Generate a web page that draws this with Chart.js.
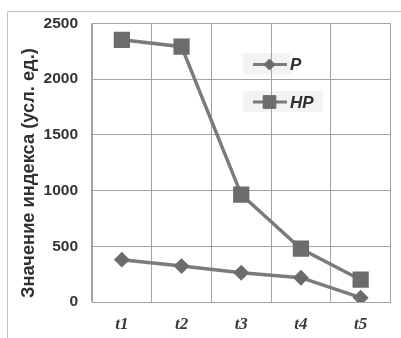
<!DOCTYPE html>
<html>
<head>
<meta charset="utf-8">
<script src="https://cdn.jsdelivr.net/npm/chart.js@4.4.1/dist/chart.umd.min.js"></script>
<style>
  html, body { margin: 0; padding: 0; background: #fff; overflow: hidden; }
  #wrap { width: 403px; height: 338px; }
</style>
</head>
<body>
<div id="wrap"><canvas id="c" width="403" height="338"></canvas></div>
<script>
// Time points and index values (conventional units)
const categories = ['t1', 't2', 't3', 't4', 't5'];
const seriesP = [380, 322, 263, 218, 39];
const seriesHP = [2352, 2290, 964, 478, 200];
const yTicks = [0, 500, 1000, 1500, 2000, 2500];
const yTitle = 'Значение индекса (усл. ед.)';

const LINE = '#7b7b7b';
const MARK = '#6c6c6c';
const GRID = '#a3a3a3';

// Outer frame, axis title and the in-plot legend
const decor = {
  id: 'decor',
  beforeDraw(chart) {
    const ctx = chart.ctx;
    ctx.save();
    ctx.strokeStyle = '#c4c4c4';
    ctx.lineWidth = 1;
    ctx.beginPath();
    ctx.moveTo(7.5, 338);
    ctx.lineTo(7.5, 11.5);
    ctx.lineTo(chart.width, 11.5);
    ctx.stroke();
    // faint backing behind legend entries
    ctx.fillStyle = '#f3f3f3';
    ctx.fillRect(243, 53, 48, 21);
    ctx.fillRect(243, 91, 80, 21);
    ctx.restore();
  },
  afterDraw(chart) {
    const ctx = chart.ctx;
    ctx.save();
    // rotated y-axis title, sized to span the value range
    ctx.font = 'bold 16px "Liberation Sans", Arial, sans-serif';
    const w = ctx.measureText(yTitle).width;
    const size = 16 * 250 / w;
    ctx.font = 'bold ' + size.toFixed(2) + 'px "Liberation Sans", Arial, sans-serif';
    ctx.translate(29, 173);
    ctx.rotate(-Math.PI / 2);
    ctx.fillStyle = '#303030';
    ctx.textAlign = 'center';
    ctx.textBaseline = 'middle';
    ctx.fillText(yTitle, 0, 0);
    ctx.restore();

    // legend entries
    const items = [
      { label: chart.data.datasets[0].label, style: 'rectRot', r: 5.5, y: 64.5 },
      { label: chart.data.datasets[1].label, style: 'rect', r: 9, y: 102 }
    ];
    ctx.save();
    items.forEach(it => {
      ctx.strokeStyle = LINE;
      ctx.lineWidth = 3;
      ctx.beginPath();
      ctx.moveTo(253, it.y);
      ctx.lineTo(287, it.y);
      ctx.stroke();
      ctx.fillStyle = MARK;
      ctx.strokeStyle = MARK;
      ctx.lineWidth = 1;
      Chart.helpers.drawPoint(ctx, { pointStyle: it.style, radius: it.r, borderWidth: 1, rotation: 0 }, 269.5, it.y);
      ctx.fillStyle = '#2e2e2e';
      ctx.font = 'italic bold 17px "Liberation Sans", Arial, sans-serif';
      ctx.textAlign = 'left';
      ctx.textBaseline = 'middle';
      ctx.fillText(it.label, 290, it.y + 1);
    });
    ctx.restore();
  }
};

new Chart(document.getElementById('c'), {
  type: 'line',
  data: {
    labels: categories,
    datasets: [
      {
        label: 'P',
        data: seriesP,
        borderColor: LINE,
        backgroundColor: MARK,
        borderWidth: 3.5,
        pointStyle: 'rectRot',
        pointRadius: 5.5,
        pointBorderColor: MARK,
        pointBackgroundColor: MARK,
        tension: 0
      },
      {
        label: 'HP',
        data: seriesHP,
        borderColor: LINE,
        backgroundColor: MARK,
        borderWidth: 3.5,
        pointStyle: 'rect',
        pointRadius: 9,
        pointBorderColor: MARK,
        pointBackgroundColor: MARK,
        tension: 0
      }
    ]
  },
  options: {
    responsive: false,
    animation: false,
    events: [],
    layout: { padding: { left: 0, right: 0, top: 22, bottom: 0 } },
    plugins: { legend: { display: false }, tooltip: { enabled: false } },
    scales: {
      x: {
        offset: true,
        grid: { color: GRID, lineWidth: 1, drawTicks: false, offset: true },
        border: { color: GRID, width: 1 },
        ticks: {
          padding: 12,
          color: '#3a3a3a',
          font: { family: '"Liberation Serif", "Times New Roman", serif', style: 'italic', weight: 'bold', size: 17 }
        },
        afterFit(s) { s.height = 36; }
      },
      y: {
        min: 0,
        max: 2500,
        afterBuildTicks(s) { s.ticks = yTicks.map(v => ({ value: v })); },
        grid: { color: GRID, lineWidth: 1, drawTicks: false },
        border: { color: GRID, width: 1 },
        ticks: {
          padding: 14,
          color: '#333',
          font: { family: '"Liberation Sans", Arial, sans-serif', weight: 'bold', size: 15.5 },
          callback: v => String(v)
        },
        afterFit(s) { s.width = 92; }
      }
    }
  },
  plugins: [decor]
});
</script>
</body>
</html>
